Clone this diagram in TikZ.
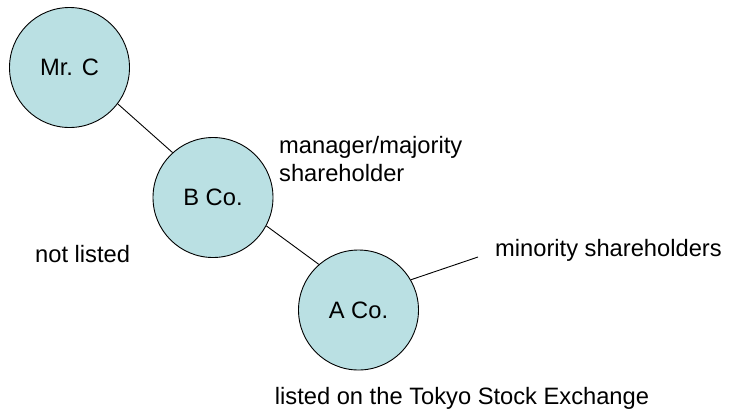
\documentclass[tikz,border=0pt]{standalone}
\usepackage{fontspec}
\setmainfont{Liberation Sans}
\definecolor{circfill}{RGB}{186,224,227}
\begin{document}
\begin{tikzpicture}[x=1pt,y=-1pt,
  every node/.style={font=\fontsize{23.7}{27.3}\selectfont},
  party/.style={circle,draw=black,line width=0.9pt,fill=circfill,minimum size=120pt,inner sep=0pt},
  lbl/.style={anchor=base west,inner sep=0pt,align=left},
  link/.style={draw=black,line width=0.9pt}]
\useasboundingbox (0,0) rectangle (729,416);
\node[party] (C) at (69.5,67.5) {Mr. C};
\node[party] (B) at (213,197.5) {B Co.};
\node[party] (A) at (358.5,310) {A Co.};
\coordinate (M) at (478,257);
\draw[link] (C.-37.5) -- (B.132.8);
\draw[link] (B.-28) -- (A.131.4);
\draw[link] (A.30) -- (M);
\node[lbl] (mgr) at (279,181) {manager/majority\\shareholder};
\node[lbl] (nl) at (35,262) {not listed};
\node[lbl] (min) at (495,256) {minority shareholders};
\node[anchor=base,inner sep=0pt] (tse) at (462,404) {listed on the Tokyo Stock Exchange};
\end{tikzpicture}
\end{document}
